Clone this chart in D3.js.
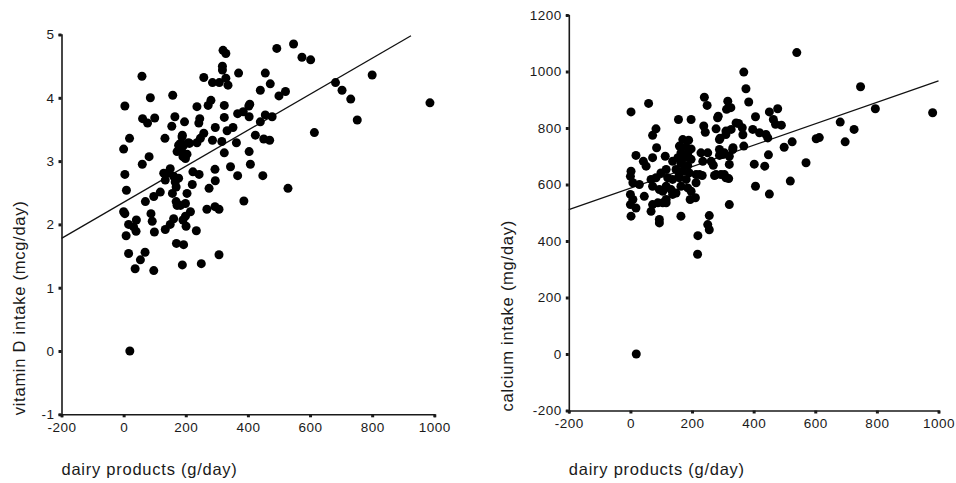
<!DOCTYPE html>
<html>
<head>
<meta charset="utf-8">
<script src="https://cdn.jsdelivr.net/npm/d3@7"></script>
<style>
  body { margin: 0; background: #fff; }
  text { font-family: 'Liberation Sans', Arial, sans-serif; fill: #1a1a1a; }
</style>
</head>
<body>
<div id="chart"></div>
<script>
// dairy products (g/day) vs vitamin D intake (mcg/day)
let vitDPoints = [
  [59, 4.34], [4, 3.87], [19, 3.36], [0, 3.19], [4, 2.79], [9, 2.54], [86, 4.0], [158, 4.04],
  [61, 3.67], [77, 3.6], [100, 3.68], [82, 3.07], [60, 2.95], [133, 3.36], [165, 3.7], [155, 3.55],
  [196, 3.62], [189, 3.41], [183, 3.28], [177, 3.25], [204, 3.11], [191, 3.07], [188, 3.15], [212, 3.28],
  [193, 3.25], [209, 3.29], [172, 3.15], [199, 3.04], [188, 3.38],
  [236, 3.86], [245, 3.67], [242, 3.6], [258, 4.32], [286, 4.24], [308, 4.24], [320, 4.75], [329, 4.7],
  [318, 4.5], [318, 4.44], [329, 4.31], [336, 4.2], [281, 3.96], [272, 3.88], [324, 3.88], [295, 3.53],
  [324, 3.69], [333, 3.48], [352, 3.53], [367, 3.75], [370, 4.39], [258, 3.44], [247, 3.36], [236, 3.29],
  [286, 3.33], [316, 3.31], [324, 3.13], [363, 3.29], [344, 2.91], [367, 2.77], [294, 2.87], [295, 2.69],
  [275, 2.57], [268, 2.24], [294, 2.28], [307, 2.24], [223, 2.83], [243, 2.79], [221, 2.63], [204, 2.49],
  [150, 2.88], [143, 2.81], [129, 2.81], [134, 2.7], [161, 2.76], [166, 2.67], [169, 2.59], [118, 2.51],
  [177, 2.73], [183, 2.3],
  [97, 2.44], [70, 2.36], [157, 2.49], [169, 2.36], [172, 2.3], [199, 2.33], [215, 2.2], [199, 2.13],
  [161, 2.09], [134, 1.92], [88, 2.17], [92, 2.05], [99, 1.88], [191, 2.07], [0, 2.2], [4, 2.17],
  [16, 2.0], [32, 1.96], [41, 2.07], [40, 1.89], [8, 1.82], [16, 1.54], [54, 1.44], [69, 1.56],
  [37, 1.3], [97, 1.27], [150, 2.0], [170, 1.7], [193, 1.68], [189, 1.36], [201, 1.97], [234, 1.9],
  [250, 1.38], [307, 1.52], [20, 0],
  [493, 4.78], [547, 4.85], [574, 4.64], [602, 4.6], [456, 4.39], [472, 4.22], [440, 4.12], [500, 4.03],
  [521, 4.1], [682, 4.24], [703, 4.12], [731, 3.98], [752, 3.65], [800, 4.36], [986, 3.92], [614, 3.45],
  [529, 2.57], [387, 2.37], [406, 3.9], [403, 3.87], [385, 3.78], [404, 3.7], [456, 3.73], [478, 3.7],
  [440, 3.62], [424, 3.41], [451, 3.35], [470, 3.33], [404, 3.15], [408, 2.95], [448, 2.77]
]

// dairy products (g/day) vs calcium intake (mg/day)
let calciumPoints = [
  [2, 857], [59, 887], [156, 830], [197, 830], [240, 909], [249, 880], [238, 807], [243, 785],
  [278, 797], [285, 842], [283, 836], [316, 895], [326, 872], [312, 866], [343, 818], [83, 797],
  [72, 774], [85, 730], [18, 703], [42, 682], [51, 665], [72, 695], [113, 700], [137, 682],
  [170, 759], [189, 757], [159, 736], [181, 733], [197, 726], [164, 712], [186, 710], [154, 695],
  [176, 695], [197, 689], [164, 674], [186, 667], [148, 653], [170, 647], [191, 641], [213, 635],
  [159, 624], [181, 618], [164, 594], [186, 588], [197, 576], [211, 553], [194, 547], [157, 629],
  [229, 712], [251, 712], [235, 682], [224, 635], [262, 682], [278, 635], [294, 635], [310, 624],
  [289, 724], [300, 706], [321, 700], [332, 724], [321, 671], [289, 759], [310, 789], [327, 795],
  [2, 647], [0, 629], [8, 606], [29, 600], [67, 618], [83, 624], [99, 641], [116, 653],
  [72, 594], [94, 582], [116, 594], [132, 582], [137, 565], [116, 547], [105, 535], [0, 565],
  [8, 547], [0, 529], [18, 517], [45, 558], [72, 529], [89, 535], [116, 535], [2, 488],
  [67, 505], [94, 476], [94, 464], [164, 488], [256, 490], [251, 458], [256, 440], [219, 419],
  [218, 353], [321, 529], [19, 0], [213, 606], [148, 570], [105, 576], [137, 618], [121, 624],
  [368, 998], [375, 939], [384, 892], [351, 816], [363, 801], [365, 776], [368, 736], [397, 795],
  [419, 783], [440, 777], [446, 765], [406, 840], [451, 857], [478, 868], [464, 830], [471, 813],
  [490, 810], [540, 1067], [747, 946], [795, 868], [981, 854], [681, 821], [726, 795], [697, 751],
  [603, 762], [613, 766], [525, 751], [499, 732], [570, 677], [519, 612], [451, 566], [406, 594],
  [448, 705], [436, 665], [402, 672], [333, 730], [310, 777], [291, 764], [305, 712], [289, 703],
  [269, 668], [233, 632], [273, 632], [305, 635], [319, 621]
]

// fitted lines (end points)
let vitDFit = [[-200, 1.78], [925, 4.98]]
let calciumFit = [[-200, 511], [1000, 967]]

let xTicks = [-200, 0, 200, 400, 600, 800, 1000]
let vitDTicks = [-1, 0, 1, 2, 3, 4, 5]
let calciumTicks = [-200, 0, 200, 400, 600, 800, 1000, 1200]

let svg = d3
  .select('#chart')
  .append('svg')
  .attr('width', 956)
  .attr('height', 483)

// plain numbers with a hyphen minus, like the original
let plainFormat = d => (d < 0 ? '-' + Math.abs(d) : String(d))

function drawPanel(opts) {
  let g = svg.append('g')

  let xPositionScale = d3.scaleLinear().domain([-200, 1000]).range(opts.xRange)
  let yPositionScale = d3
    .scaleLinear()
    .domain(d3.extent(opts.yTicks))
    .range(opts.yRange)

  // regression line
  let line = d3
    .line()
    .x(d => xPositionScale(d[0]))
    .y(d => yPositionScale(d[1]))

  g.append('path')
    .datum(opts.fit)
    .attr('d', line)
    .attr('fill', 'none')
    .attr('stroke', '#111')
    .attr('stroke-width', 1.3)

  g.selectAll('circle')
    .data(opts.points)
    .enter()
    .append('circle')
    .attr('cx', d => xPositionScale(d[0]))
    .attr('cy', d => yPositionScale(d[1]))
    .attr('r', 4.5)
    .attr('fill', '#000')

  let xAxis = d3
    .axisBottom(xPositionScale)
    .tickValues(xTicks)
    .tickFormat(plainFormat)
    .tickSizeOuter(0)
    .tickSize(3)
    .tickPadding(5)

  let yAxis = d3
    .axisLeft(yPositionScale)
    .tickValues(opts.yTicks)
    .tickFormat(plainFormat)
    .tickSizeOuter(0)
    .tickSize(3)
    .tickPadding(4)

  g.append('g')
    .attr('class', 'axis x-axis')
    .attr('transform', 'translate(0,' + opts.yRange[0] + ')')
    .call(xAxis)

  g.append('g')
    .attr('class', 'axis y-axis')
    .attr('transform', 'translate(' + opts.xRange[0] + ',0)')
    .call(yAxis)

  g.selectAll('.axis .domain')
    .attr('stroke', '#1a1a1a')
    .attr('stroke-width', 1.6)
  g.selectAll('.axis .tick line')
    .attr('stroke', '#1a1a1a')
    .attr('stroke-width', 3)
  g.selectAll('.axis text')
    .attr('font-size', 13.5)
    .attr('letter-spacing', 0.5)
    .attr('fill', '#1a1a1a')

  // axis titles
  g.append('text')
    .attr('x', opts.xRange[0])
    .attr('y', 475)
    .attr('font-size', 16.5)
    .attr('letter-spacing', 0.75)
    .text('dairy products (g/day)')

  g.append('text')
    .attr('transform', 'translate(' + opts.yLabelX + ',' + (opts.yRange[0] + 1) + ') rotate(-90)')
    .attr('font-size', 16.5)
    .attr('letter-spacing', 0.75)
    .text(opts.yLabel)
}

drawPanel({
  points: vitDPoints,
  fit: vitDFit,
  yTicks: vitDTicks,
  xRange: [61.5, 434.3],
  yRange: [414.3, 34.5],
  yLabelX: 25,
  yLabel: 'vitamin D intake (mcg/day)'
})

drawPanel({
  points: calciumPoints,
  fit: calciumFit,
  yTicks: calciumTicks,
  xRange: [568.8, 938.5],
  yRange: [410.5, 15],
  yLabelX: 513,
  yLabel: 'calcium intake (mg/day)'
})
</script>
</body>
</html>
